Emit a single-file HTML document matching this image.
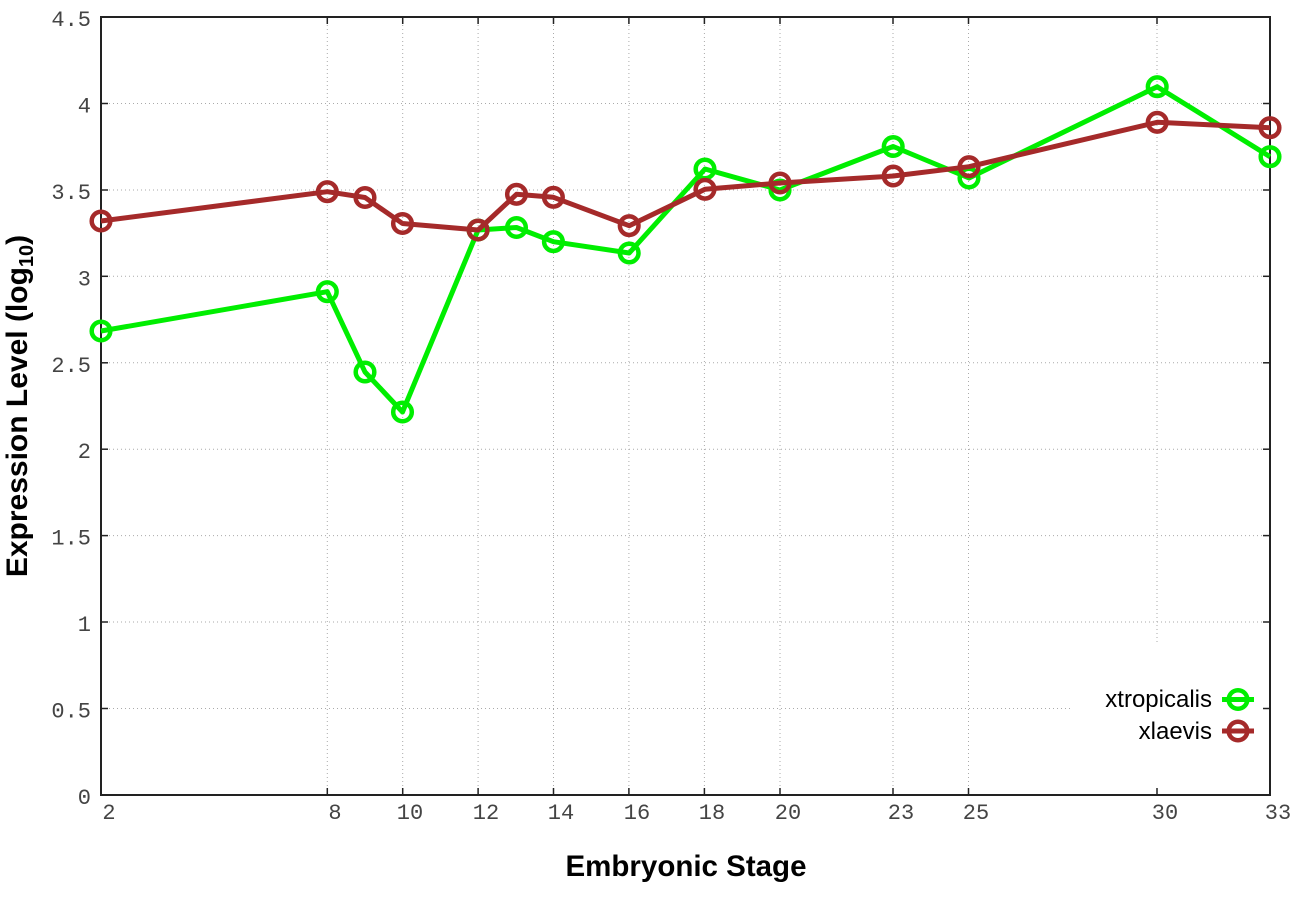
<!DOCTYPE html>
<html><head><meta charset="utf-8"><style>
html,body{margin:0;padding:0;background:#fff;}
svg{display:block;}
.tl{font-family:"Liberation Mono",monospace;font-size:22px;fill:#444;}
.grid{stroke:#aaa;stroke-width:1;stroke-dasharray:1,3;fill:none;}
.tick{stroke:#222;stroke-width:1.5;}
</style></head><body>
<svg width="1296" height="907" viewBox="0 0 1296 907" xmlns="http://www.w3.org/2000/svg">
<rect width="1296" height="907" fill="#fff"/>
<g class="grid">
<line x1="101" y1="103.5" x2="1270" y2="103.5"/>
<line x1="101" y1="190" x2="1270" y2="190"/>
<line x1="101" y1="276.3" x2="1270" y2="276.3"/>
<line x1="101" y1="362.8" x2="1270" y2="362.8"/>
<line x1="101" y1="449.2" x2="1270" y2="449.2"/>
<line x1="101" y1="535.6" x2="1270" y2="535.6"/>
<line x1="101" y1="622" x2="1270" y2="622"/>
<line x1="101" y1="708.5" x2="1071" y2="708.5"/>
<line x1="327.3" y1="17" x2="327.3" y2="795"/>
<line x1="402.7" y1="17" x2="402.7" y2="795"/>
<line x1="478.1" y1="17" x2="478.1" y2="795"/>
<line x1="553.5" y1="17" x2="553.5" y2="795"/>
<line x1="628.9" y1="17" x2="628.9" y2="795"/>
<line x1="704.4" y1="17" x2="704.4" y2="795"/>
<line x1="780" y1="17" x2="780" y2="795"/>
<line x1="893" y1="17" x2="893" y2="795"/>
<line x1="968.5" y1="17" x2="968.5" y2="795"/>
<line x1="1157" y1="17" x2="1157" y2="642"/>
</g>
<g class="tick">
<line x1="101" y1="103.5" x2="108" y2="103.5"/><line x1="1263" y1="103.5" x2="1270" y2="103.5"/>
<line x1="101" y1="190" x2="108" y2="190"/><line x1="1263" y1="190" x2="1270" y2="190"/>
<line x1="101" y1="276.3" x2="108" y2="276.3"/><line x1="1263" y1="276.3" x2="1270" y2="276.3"/>
<line x1="101" y1="362.8" x2="108" y2="362.8"/><line x1="1263" y1="362.8" x2="1270" y2="362.8"/>
<line x1="101" y1="449.2" x2="108" y2="449.2"/><line x1="1263" y1="449.2" x2="1270" y2="449.2"/>
<line x1="101" y1="535.6" x2="108" y2="535.6"/><line x1="1263" y1="535.6" x2="1270" y2="535.6"/>
<line x1="101" y1="622" x2="108" y2="622"/><line x1="1263" y1="622" x2="1270" y2="622"/>
<line x1="101" y1="708.5" x2="108" y2="708.5"/><line x1="1263" y1="708.5" x2="1270" y2="708.5"/>
<line x1="327.3" y1="795" x2="327.3" y2="788"/><line x1="327.3" y1="17" x2="327.3" y2="24"/>
<line x1="402.7" y1="795" x2="402.7" y2="788"/><line x1="402.7" y1="17" x2="402.7" y2="24"/>
<line x1="478.1" y1="795" x2="478.1" y2="788"/><line x1="478.1" y1="17" x2="478.1" y2="24"/>
<line x1="553.5" y1="795" x2="553.5" y2="788"/><line x1="553.5" y1="17" x2="553.5" y2="24"/>
<line x1="628.9" y1="795" x2="628.9" y2="788"/><line x1="628.9" y1="17" x2="628.9" y2="24"/>
<line x1="704.4" y1="795" x2="704.4" y2="788"/><line x1="704.4" y1="17" x2="704.4" y2="24"/>
<line x1="780" y1="795" x2="780" y2="788"/><line x1="780" y1="17" x2="780" y2="24"/>
<line x1="893" y1="795" x2="893" y2="788"/><line x1="893" y1="17" x2="893" y2="24"/>
<line x1="968.5" y1="795" x2="968.5" y2="788"/><line x1="968.5" y1="17" x2="968.5" y2="24"/>
<line x1="1157" y1="795" x2="1157" y2="788"/><line x1="1157" y1="17" x2="1157" y2="24"/>
</g>
<rect x="101" y="17" width="1169" height="778" fill="none" stroke="#222" stroke-width="2"/>
<g class="tl" text-anchor="end">
<text x="91" y="26">4.5</text>
<text x="91" y="112.5">4</text>
<text x="91" y="199">3.5</text>
<text x="91" y="285.3">3</text>
<text x="91" y="371.8">2.5</text>
<text x="91" y="458.2">2</text>
<text x="91" y="544.6">1.5</text>
<text x="91" y="631">1</text>
<text x="91" y="717.5">0.5</text>
<text x="91" y="804">0</text>
</g>
<g class="tl" text-anchor="middle">
<text x="109" y="819">2</text>
<text x="335" y="819">8</text>
<text x="410" y="819">10</text>
<text x="486" y="819">12</text>
<text x="561" y="819">14</text>
<text x="637" y="819">16</text>
<text x="712" y="819">18</text>
<text x="788" y="819">20</text>
<text x="901" y="819">23</text>
<text x="976" y="819">25</text>
<text x="1165" y="819">30</text>
<text x="1278" y="819">33</text>
</g>
<text x="686" y="876" text-anchor="middle" font-family="Liberation Sans, Arial, sans-serif" font-weight="bold" font-size="29.5" fill="#000">Embryonic Stage</text>
<text transform="translate(27,406) rotate(-90)" text-anchor="middle" font-family="Liberation Sans, Arial, sans-serif" font-weight="bold" font-size="30" fill="#000">Expression Level (log<tspan font-size="20" dy="6">10</tspan><tspan dy="-6">)</tspan></text>
<g stroke="#00ee00" fill="none" stroke-width="5" stroke-linejoin="round">
<polyline points="101,331 327.3,291.7 365,372 402.5,412 478.1,230 516.5,227.5 553.4,241.7 629.2,253 705,169 780,190 893.2,146.5 969,178 1157.2,86.7 1270,156.7"/>
<g stroke-width="4.5">
<circle cx="101" cy="331" r="9.3"/><circle cx="327.3" cy="291.7" r="9.3"/><circle cx="365" cy="372" r="9.3"/>
<circle cx="402.5" cy="412" r="9.3"/><circle cx="478.1" cy="230" r="9.3"/><circle cx="516.5" cy="227.5" r="9.3"/>
<circle cx="553.4" cy="241.7" r="9.3"/><circle cx="629.2" cy="253" r="9.3"/><circle cx="705" cy="169" r="9.3"/>
<circle cx="780" cy="190" r="9.3"/><circle cx="893.2" cy="146.5" r="9.3"/><circle cx="969" cy="178" r="9.3"/>
<circle cx="1157.2" cy="86.7" r="9.3"/><circle cx="1270" cy="156.7" r="9.3"/>
</g>
</g>
<g stroke="#a52a2a" fill="none" stroke-width="5" stroke-linejoin="round">
<polyline points="101,221 327.3,191.7 365,197.5 402.5,223.5 478.1,230 516.5,194.3 553.4,197.3 629.2,225.7 705,189.3 780,183 893.2,176 969,166.7 1157.2,122.3 1270,127.7"/>
<g stroke-width="4.5">
<circle cx="101" cy="221" r="9.3"/><circle cx="327.3" cy="191.7" r="9.3"/><circle cx="365" cy="197.5" r="9.3"/>
<circle cx="402.5" cy="223.5" r="9.3"/><circle cx="478.1" cy="230" r="9.3"/><circle cx="516.5" cy="194.3" r="9.3"/>
<circle cx="553.4" cy="197.3" r="9.3"/><circle cx="629.2" cy="225.7" r="9.3"/><circle cx="705" cy="189.3" r="9.3"/>
<circle cx="780" cy="183" r="9.3"/><circle cx="893.2" cy="176" r="9.3"/><circle cx="969" cy="166.7" r="9.3"/>
<circle cx="1157.2" cy="122.3" r="9.3"/><circle cx="1270" cy="127.7" r="9.3"/>
</g>
</g>
<g font-family="Liberation Sans, Arial, sans-serif" font-size="24" fill="#000" text-anchor="end">
<text x="1212" y="707">xtropicalis</text>
<text x="1212" y="739">xlaevis</text>
</g>
<g fill="none" stroke-width="5">
<line x1="1222" y1="699.5" x2="1254" y2="699.5" stroke="#00ee00"/>
<circle cx="1238" cy="699.5" r="9.3" stroke="#00ee00" stroke-width="4.5"/>
<line x1="1222" y1="731" x2="1254" y2="731" stroke="#a52a2a"/>
<circle cx="1238" cy="731" r="9.3" stroke="#a52a2a" stroke-width="4.5"/>
</g>
</svg>
</body></html>
